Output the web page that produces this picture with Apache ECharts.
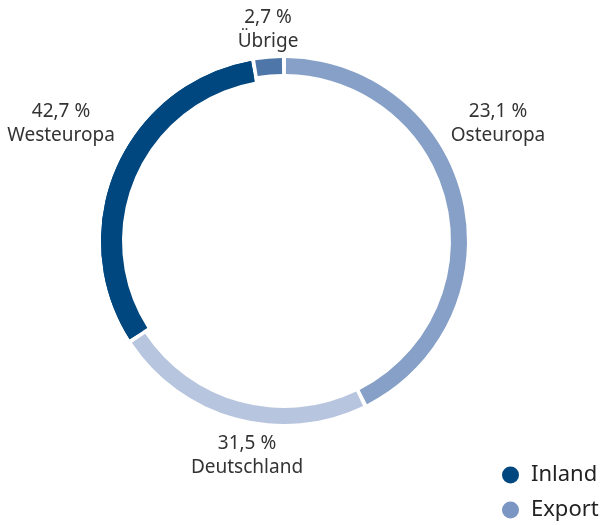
<!DOCTYPE html>
<html>
<head>
<meta charset="utf-8">
<script src="https://cdn.jsdelivr.net/npm/echarts@6/dist/echarts.min.js"></script>
<style>
  html, body { margin: 0; padding: 0; background: #fff; }
  #chart { width: 604px; height: 525px; }
</style>
</head>
<body>
<div id="chart"></div>
<script>
// slices, clockwise from the top
var regions = ["Westeuropa", "Osteuropa", "Deutschland", "Übrige"];
var shares = [42.7, 23.1, 31.5, 2.7];
var legendNames = ["Inland", "Export"];

var sliceColors = ["#86a0c7", "#b8c5df", "#00477f", "#4f76a8"];
var legendColors = ["#00477f", "#7b96c2"];
// label centres (text placed by hand in the original)
var labelCenters = [[61, 124], [498, 124], [247, 456], [268, 30]];

var chart = echarts.init(document.getElementById("chart"));

function fmt(v) {
  return v.toFixed(1).replace(".", ",") + " %";
}

var mainData = regions.map(function (name, i) {
  return { name: name, value: shares[i], itemStyle: { color: sliceColors[i] } };
});
// inland slice is drawn a bit thicker
var inlandData = regions.map(function (name, i) {
  return {
    name: name,
    value: shares[i],
    itemStyle: { color: name === "Deutschland" ? sliceColors[i] : "rgba(0,0,0,0)" }
  };
});

var center = [284, 241];

chart.setOption({
  animation: false,
  textStyle: { fontFamily: "Noto Sans" },
  legend: {
    orient: "vertical",
    left: 502,
    top: 464,
    padding: 0,
    itemWidth: 17,
    itemHeight: 17,
    itemGap: 13,
    icon: "circle",
    selectedMode: false,
    textStyle: { fontSize: 22, color: "#222", fontFamily: "Noto Sans", padding: [0, 0, 0, 7] },
    data: legendNames
  },
  series: [
    {
      type: "pie",
      name: "main",
      center: center,
      radius: [167, 183],
      startAngle: 90,
      clockwise: true,
      padAngle: 1.3,
      silent: true,
      labelLine: { show: false },
      label: {
        show: true,
        position: "outside",
        fontFamily: "Noto Sans",
        fontSize: 19,
        lineHeight: 24,
        color: "#333",
        overflow: "none",
        formatter: function (p) {
          return fmt(p.value) + "\n" + p.name;
        }
      },
      labelLayout: function (p) {
        var c = labelCenters[p.dataIndex];
        return { x: c[0], y: c[1], align: "center", verticalAlign: "middle" };
      },
      data: mainData
    },
    {
      type: "pie",
      name: "inland",
      center: center,
      radius: [162, 183],
      startAngle: 90,
      clockwise: true,
      padAngle: 1.3,
      silent: true,
      label: { show: false },
      labelLine: { show: false },
      data: inlandData
    },
    {
      type: "pie",
      name: legendNames[0],
      showEmptyCircle: false,
      itemStyle: { color: legendColors[0] },
      data: []
    },
    {
      type: "pie",
      name: legendNames[1],
      showEmptyCircle: false,
      itemStyle: { color: legendColors[1] },
      data: []
    }
  ]
});
</script>
</body>
</html>
